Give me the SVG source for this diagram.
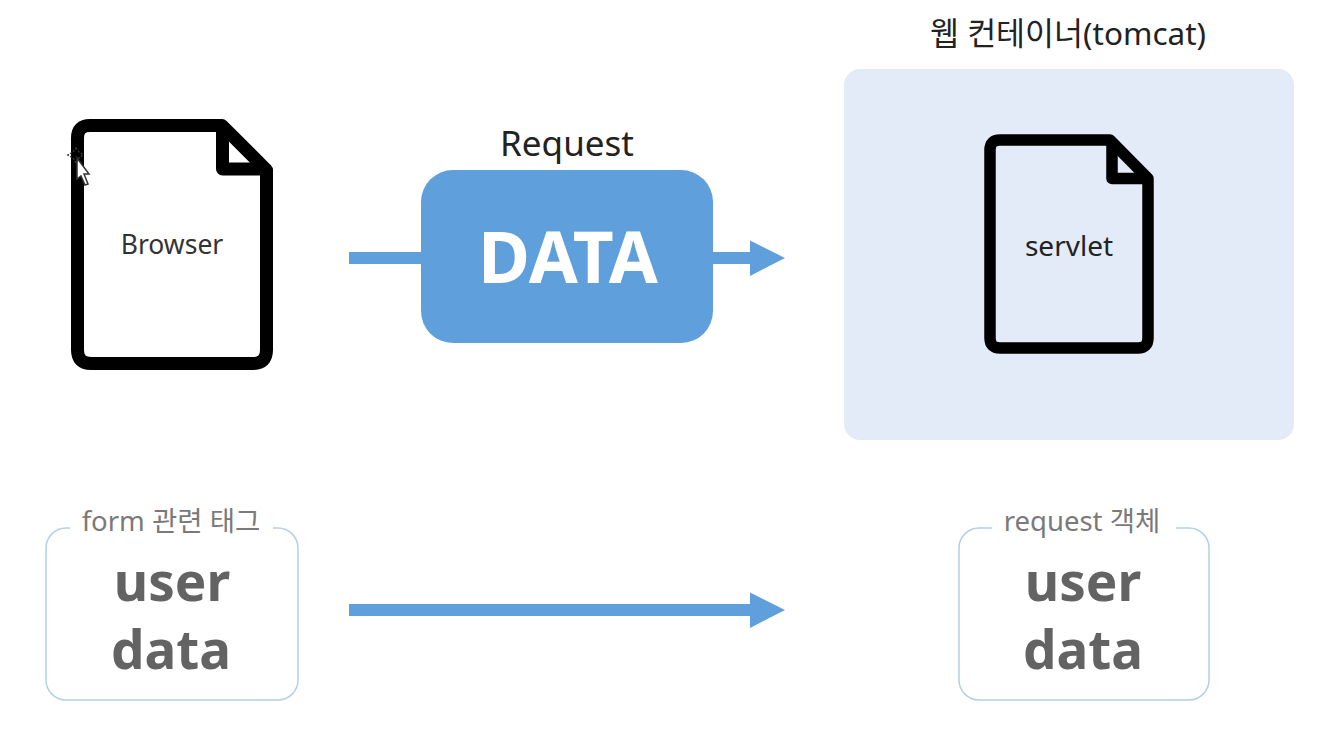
<svg xmlns="http://www.w3.org/2000/svg" width="1340" height="754" viewBox="0 0 1340 754">
<style>
.s{font-family:"Noto Sans","Noto Sans CJK KR",sans-serif}
.doc{fill:none;stroke:#000;stroke-linejoin:round}
.lbl{font-size:27.500px;fill:#7a7a7a;text-anchor:middle}
.big{font-size:53px;font-weight:700;fill:#636363;text-anchor:middle}
.box{fill:#fff;stroke:#b4d0e2;stroke-width:1.5}
.gap{fill:#fff}
.c{stroke:#5f9fdc;stroke-width:12;fill:none}
.h{fill:#5f9fdc}
</style>
<rect width="1340" height="754" fill="#fff"/>
<g id="container">
<rect x="844" y="69" width="450" height="371" rx="16" fill="#e2ebf7"/>
<text class="s" x="1068" y="45" font-size="31.500" fill="#222" text-anchor="middle">웹 컨테이너(tomcat)</text>
</g>
<g id="connectors">
<line class="c" x1="349" y1="258" x2="752" y2="258"/>
<polygon class="h" points="750,240.500 785,258 750,276"/>
<line class="c" x1="349" y1="610" x2="752" y2="610"/>
<polygon class="h" points="750,592.500 785,610 750,628"/>
</g>
<g id="browser">
<path class="doc" stroke-width="13" d="M90 125.500H222L266.500 170V350Q266.500 363.500 253 363.500H91Q77.500 363.500 77.500 350V138Q77.500 125.500 90 125.500Z"/>
<path class="doc" stroke-width="13" d="M222.500 126V169H266"/>
<text class="s" x="172" y="254" font-size="26.500" fill="#333" text-anchor="middle">Browser</text>
<g id="cursor" fill="#fff" stroke="#333" stroke-width="1.500">
<path d="M77 158L89 174 84 174 88 184 85 185 81 176 77 179Z"/>
<path d="M76 148L79 152 83 155 79 158 76 163 73 158 68 155 73 152Z" fill="none" stroke-dasharray="2 1.500"/>
</g>
</g>
<g id="data">
<text class="s" x="567" y="156" font-size="35" fill="#222" text-anchor="middle">Request</text>
<rect x="421" y="170" width="292" height="173" rx="32" fill="#5f9fdc"/>
<text class="s" x="568" y="283" font-size="71" font-weight="700" fill="#fff" text-anchor="middle">DATA</text>
</g>
<g id="servlet">
<path class="doc" stroke-width="11.500" d="M1000 140H1110L1148 178.500V338Q1148 348 1138 348H1000Q990 348 990 338V150Q990 140 1000 140Z"/>
<path class="doc" stroke-width="11.500" d="M1112 141V178.500H1147"/>
<text class="s" x="1069" y="256" font-size="28" fill="#222" text-anchor="middle">servlet</text>
</g>
<g id="form-box">
<rect class="box" x="46" y="528" width="252" height="172" rx="20"/>
<rect class="gap" x="70" y="505" width="203" height="40"/>
<text class="s lbl" x="171" y="531">form 관련 태그</text>
<text class="s big" x="172" y="601">user</text>
<text class="s big" x="171" y="669">data</text>
</g>
<g id="request-box">
<rect class="box" x="959" y="528" width="250" height="172" rx="20"/>
<rect class="gap" x="992" y="505" width="184" height="40"/>
<text class="s lbl" x="1082" y="531">request 객체</text>
<text class="s big" x="1083" y="601">user</text>
<text class="s big" x="1083" y="669">data</text>
</g>
</svg>
